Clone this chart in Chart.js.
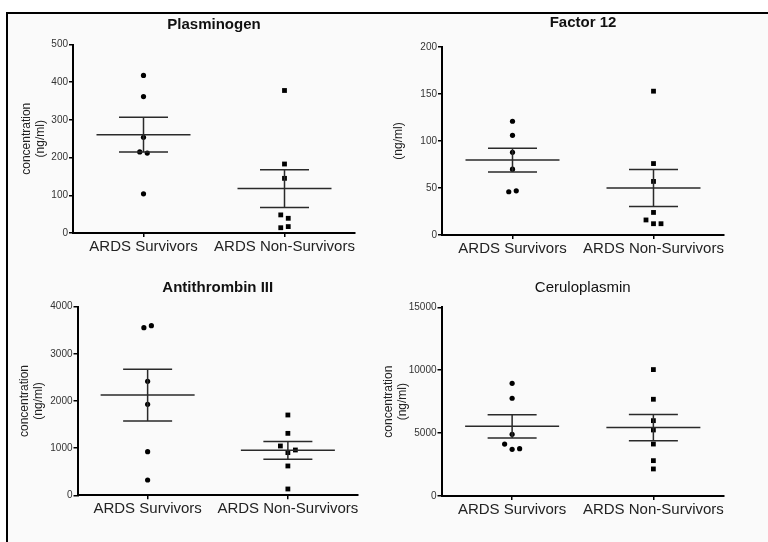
<!DOCTYPE html>
<html lang="en">
<head>
<meta charset="UTF-8">
<title>ARDS survivors vs non-survivors</title>
<script src="https://cdn.jsdelivr.net/npm/chart.js@4"></script>
<style>
  body { margin: 0; width: 768px; height: 542px; overflow: hidden; position: relative; background: #fff; }
  .frame {
    position: absolute; left: 6px; top: 12px; width: 800px; height: 560px;
    border-left: 2px solid #000; border-top: 2px solid #000; background: #fafafa;
  }
  canvas { position: absolute; }
</style>
</head>
<body>
<div class="frame"></div>
<canvas id="plasminogen"></canvas>
<canvas id="factor12"></canvas>
<canvas id="antithrombin"></canvas>
<canvas id="ceruloplasmin"></canvas>

<script>
// groups on the x axis
const groups = ['ARDS Survivors', 'ARDS Non-Survivors'];

// values (ng/ml)
const plasminogenSurvivors = [418, 362, 254, 215, 212, 104];
const plasminogenNonSurvivors = [378, 183, 145, 48, 39, 14, 17];
const factor12Survivors = [121, 106, 88, 70, 46, 47];
const factor12NonSurvivors = [153, 76, 57, 24, 16, 12, 12];
const antithrombinSurvivors = [3555, 3597, 2417, 1929, 926, 325];
const antithrombinNonSurvivors = [1703, 1314, 1046, 905, 961, 622, 134];
const ceruloplasminSurvivors = [8960, 7770, 4900, 4130, 3710, 3760];
const ceruloplasminNonSurvivors = [10050, 7690, 5990, 5250, 4130, 2810, 2150];

// y tick labels
const plasminogenTicks = [0, 100, 200, 300, 400, 500];
const factor12Ticks = [0, 50, 100, 150, 200];
const antithrombinTicks = [0, 1000, 2000, 3000, 4000];
const ceruloplasminTicks = [0, 5000, 10000, 15000];

Chart.defaults.font.family = "'Liberation Sans', Arial, Helvetica, sans-serif";

const MEAN_HALF = 47;   // px, half width of mean line
const SEM_HALF = 24.5;  // px, half width of SEM caps
const SWARM_GAP = 6;    // px, points closer than this are spread sideways
const SWARM_STEP = 7.5; // px between spread points

// spread overlapping points sideways, like a column scatter
const swarmPlugin = {
  id: 'swarm',
  afterDatasetsUpdate(chart) {
    const xs = chart.scales.x;
    chart.data.datasets.forEach((ds, di) => {
      const pts = chart.getDatasetMeta(di).data;
      const order = ds.data.map((d, i) => i).sort((a, b) => pts[b].y - pts[a].y);
      const clusters = [];
      let cur = [];
      order.forEach(i => {
        if (cur.length && Math.abs(pts[i].y - pts[cur[cur.length - 1]].y) > SWARM_GAP) {
          clusters.push(cur);
          cur = [];
        }
        cur.push(i);
      });
      if (cur.length) clusters.push(cur);
      clusters.forEach(c => {
        c.sort((a, b) => a - b);
        c.forEach((i, k) => {
          pts[i].x = xs.getPixelForValue(ds.data[i].x) + (k - (c.length - 1) / 2) * SWARM_STEP;
        });
      });
    });
  }
};

// mean with SEM bars
const meanSemPlugin = {
  id: 'meanSem',
  afterDatasetsDraw(chart) {
    const { ctx, scales: { x, y } } = chart;
    ctx.save();
    ctx.strokeStyle = '#2a2a2a';
    ctx.lineWidth = 1.5;
    chart.data.datasets.forEach(ds => {
      const vals = ds.data.map(d => d.y);
      const n = vals.length;
      const mean = vals.reduce((s, v) => s + v, 0) / n;
      const sd = Math.sqrt(vals.reduce((s, v) => s + (v - mean) * (v - mean), 0) / (n - 1));
      const sem = sd / Math.sqrt(n);
      const cx = x.getPixelForValue(ds.data[0].x);
      const ym = y.getPixelForValue(mean);
      const yt = y.getPixelForValue(mean + sem);
      const yb = y.getPixelForValue(mean - sem);
      ctx.beginPath();
      ctx.moveTo(cx - MEAN_HALF, ym); ctx.lineTo(cx + MEAN_HALF, ym);
      ctx.moveTo(cx - SEM_HALF, yt); ctx.lineTo(cx + SEM_HALF, yt);
      ctx.moveTo(cx - SEM_HALF, yb); ctx.lineTo(cx + SEM_HALF, yb);
      ctx.moveTo(cx, yt); ctx.lineTo(cx, yb);
      ctx.stroke();
    });
    ctx.restore();
  }
};

const panels = [
  { id: 'plasminogen', title: 'Plasminogen', bold: true, yTitle: ['concentration', '(ng/ml)'],
    survivors: plasminogenSurvivors, nonSurvivors: plasminogenNonSurvivors, ticks: plasminogenTicks,
    box: { left: 8, top: 14, w: 370, h: 250, yWidth: 65, xHeight: 31, padRight: 23, titleTop: 2, titleBottom: 10.5, yTitlePad: 12 } },
  { id: 'factor12', title: 'Factor 12', bold: true, yTitle: '(ng/ml)',
    survivors: factor12Survivors, nonSurvivors: factor12NonSurvivors, ticks: factor12Ticks,
    box: { left: 384, top: 14, w: 376, h: 250, yWidth: 58, xHeight: 29, padRight: 36, titleTop: 0, titleBottom: 15, yTitlePad: 8 } },
  { id: 'antithrombin', title: 'Antithrombin III', bold: true, yTitle: ['concentration', '(ng/ml)'],
    survivors: antithrombinSurvivors, nonSurvivors: antithrombinNonSurvivors, ticks: antithrombinTicks,
    box: { left: 8, top: 262, w: 370, h: 270, yWidth: 69.5, xHeight: 36.7, padRight: 20, titleTop: 17, titleBottom: 9.7, yTitlePad: 10 } },
  { id: 'ceruloplasmin', title: 'Ceruloplasmin', bold: false, yTitle: ['concentration', '(ng/ml)'],
    survivors: ceruloplasminSurvivors, nonSurvivors: ceruloplasminNonSurvivors, ticks: ceruloplasminTicks,
    box: { left: 376, top: 262, w: 384, h: 270, yWidth: 65.5, xHeight: 36, padRight: 36, titleTop: 17, titleBottom: 10.3, yTitlePad: 6 } }
];

panels.forEach(p => {
  const b = p.box;
  const canvas = document.getElementById(p.id);
  canvas.width = b.w;
  canvas.height = b.h;
  canvas.style.left = b.left + 'px';
  canvas.style.top = b.top + 'px';

  new Chart(canvas, {
    type: 'scatter',
    data: {
      datasets: [
        {
          label: groups[0],
          data: p.survivors.map(v => ({ x: 0, y: v })),
          pointStyle: 'circle', pointRadius: 2.6, backgroundColor: '#000', borderWidth: 0, clip: false
        },
        {
          label: groups[1],
          data: p.nonSurvivors.map(v => ({ x: 1, y: v })),
          pointStyle: 'rect', pointRadius: 3.4, backgroundColor: '#000', borderWidth: 0, clip: false
        }
      ]
    },
    options: {
      responsive: false,
      animation: false,
      devicePixelRatio: 1,
      layout: { padding: { left: 0, top: 0, right: b.padRight, bottom: 0 } },
      plugins: {
        legend: { display: false },
        tooltip: { enabled: false },
        title: {
          display: true, text: p.title, fullSize: false, color: '#111',
          font: { size: 15, weight: p.bold ? 'bold' : 'normal' },
          padding: { top: b.titleTop, bottom: b.titleBottom }
        }
      },
      scales: {
        x: {
          type: 'linear', min: -0.5, max: 1.5,
          afterBuildTicks: s => { s.ticks = groups.map((g, i) => ({ value: i })); },
          afterFit: s => { s.height = b.xHeight; },
          ticks: { callback: v => groups[v], font: { size: 15 }, color: '#222', padding: 1, maxRotation: 0, autoSkip: false },
          grid: { drawOnChartArea: false, drawTicks: true, tickLength: 4, color: '#000', lineWidth: 1.5 },
          border: { display: true, color: '#000', width: 2 }
        },
        y: {
          min: 0, max: p.ticks[p.ticks.length - 1],
          afterBuildTicks: s => { s.ticks = p.ticks.map(v => ({ value: v })); },
          afterFit: s => { s.width = b.yWidth; },
          ticks: { callback: v => String(v), font: { size: 10 }, color: '#333', padding: 1 },
          grid: { drawOnChartArea: false, drawTicks: true, tickLength: 4, color: '#000', lineWidth: 1.5 },
          border: { display: true, color: '#000', width: 2 },
          title: {
            display: true, text: p.yTitle, color: '#222',
            font: { size: 12, lineHeight: 1.15 },
            padding: { top: b.yTitlePad, bottom: 0 }
          }
        }
      }
    },
    plugins: [swarmPlugin, meanSemPlugin]
  });
});
</script>
</body>
</html>
